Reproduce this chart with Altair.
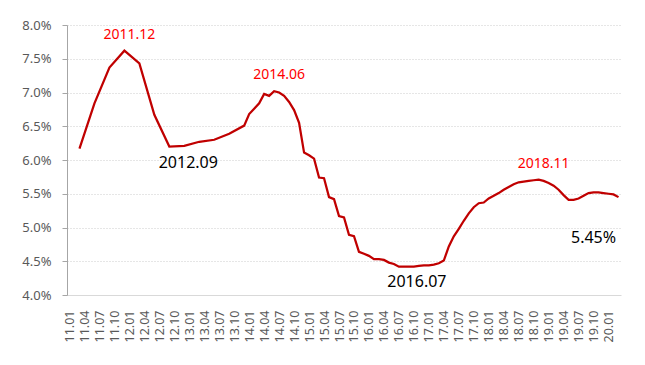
import altair as alt
import pandas as pd

# category labels (monthly, 2011.01 - 2020.03)
all_months = [f"{y:02d}.{m:02d}" for y in range(11, 21) for m in range(1, 13)][:111]
tick_labels = [all_months[i] for i in range(0, 111, 3) if i <= 108]

series_months = [
    "11.03", "11.06", "11.09", "11.12", "12.03", "12.06", "12.09", "12.12",
    "13.03", "13.06", "13.09", "13.12",
    "14.01", "14.02", "14.03", "14.04", "14.05", "14.06", "14.07", "14.08", "14.09", "14.10", "14.11", "14.12",
    "15.01", "15.02", "15.03", "15.04", "15.05", "15.06", "15.07", "15.08", "15.09", "15.10", "15.11", "15.12",
    "16.01", "16.02", "16.03", "16.04", "16.05", "16.06", "16.07", "16.08", "16.09", "16.10", "16.11", "16.12",
    "17.01", "17.02", "17.03", "17.04", "17.05", "17.06", "17.07", "17.08", "17.09", "17.10", "17.11", "17.12",
    "18.01", "18.02", "18.03", "18.04", "18.05", "18.06", "18.07", "18.08", "18.09", "18.10", "18.11", "18.12",
    "19.01", "19.02", "19.03", "19.04", "19.05", "19.06", "19.07", "19.08", "19.09", "19.10", "19.11", "19.12",
    "20.01", "20.02", "20.03",
]
series_values = [
    6.17, 6.84, 7.37, 7.62, 7.43, 6.67, 6.20, 6.21,
    6.27, 6.30, 6.39, 6.51,
    6.68, 6.76, 6.84, 6.98, 6.95, 7.02, 7.00, 6.95, 6.86, 6.74, 6.55, 6.11,
    6.07, 6.02, 5.74, 5.73, 5.45, 5.42, 5.17, 5.15, 4.89, 4.87, 4.64, 4.61,
    4.58, 4.53, 4.53, 4.52, 4.48, 4.46, 4.42, 4.42, 4.42, 4.42, 4.43, 4.44,
    4.44, 4.45, 4.47, 4.51, 4.72, 4.87, 4.98, 5.10, 5.21, 5.30, 5.36, 5.37,
    5.43, 5.47, 5.51, 5.56, 5.60, 5.64, 5.67, 5.68, 5.69, 5.70, 5.71, 5.69,
    5.66, 5.62, 5.56, 5.48, 5.41, 5.41, 5.43, 5.47, 5.51, 5.52, 5.52, 5.51,
    5.50, 5.49, 5.45,
]

ann_labels = ["2011.12", "2012.09", "2014.06", "2016.07", "2018.11", "5.45%"]
ann_months = ["11.12", "12.09", "14.06", "16.07", "18.11", "20.03"]
ann_values = [7.62, 6.20, 7.02, 4.42, 5.71, 5.45]
ann_colors = ["#FF0000", "#000000", "#FF0000", "#000000", "#FF0000", "#000000"]
ann_sizes = [14, 16, 14, 16, 14, 16]
ann_offsets = [(5, -16), (19, 16), (5, -16), (18, 15), (5, -16), (-25, 41)]

y_ticks = [4.0, 4.5, 5.0, 5.5, 6.0, 6.5, 7.0, 7.5, 8.0]

FONT = "Noto Sans"

x_enc = alt.X(
    "month:O",
    scale=alt.Scale(domain=all_months, type="point", padding=0.5),
    sort=all_months,
    axis=alt.Axis(
        values=tick_labels, labelAngle=270, labelFontSize=12.5, labelColor="#595959",
        labelFont=FONT, domainColor="#d9d9d9", domainWidth=1, ticks=False, grid=False,
        labelPadding=15, labelOverlap=False, title=None,
    ),
)
y_enc = alt.Y(
    "value:Q",
    scale=alt.Scale(domain=[4.0, 8.0], nice=False, zero=False),
    axis=alt.Axis(
        values=y_ticks, labelExpr="format(datum.value, '.1f') + '%'",
        tickSize=5, tickColor="#a6a6a6", domainColor="#a6a6a6",
        gridColor="#cccccc", gridDash=[1, 2], gridWidth=1,
        labelFontSize=13, labelColor="#595959", labelFont=FONT, labelPadding=11,
        title=None,
    ),
)

line_df = pd.DataFrame({"month": series_months, "value": series_values})
line = alt.Chart(line_df).mark_line(color="#C00000", strokeWidth=2.25).encode(x=x_enc, y=y_enc)

layers = [line]
for i in range(len(ann_labels)):
    df = pd.DataFrame({"month": [ann_months[i]], "value": [ann_values[i]], "label": [ann_labels[i]]})
    layers.append(
        alt.Chart(df).mark_text(
            dx=ann_offsets[i][0], dy=ann_offsets[i][1], color=ann_colors[i],
            fontSize=ann_sizes[i], font=FONT, align="center", baseline="middle",
        ).encode(x=x_enc, y=y_enc, text="label:N")
    )

chart = alt.layer(*layers).properties(
    width=554, height=270,
    autosize=alt.AutoSizeParams(type="none"),
    padding={"left": 59, "top": 17, "right": 12, "bottom": 60},
).configure_view(stroke=None)

chart.save("out.html", embed_options={"renderer": "svg", "actions": False})
